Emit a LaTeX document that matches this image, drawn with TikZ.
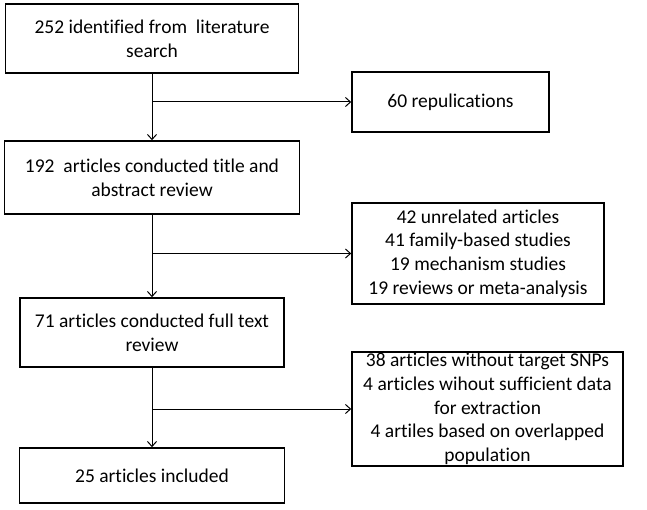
\documentclass[tikz,border=0pt]{standalone}
\usepackage{fontspec}
\setmainfont[Ligatures=NoCommon]{Carlito}
\usetikzlibrary{arrows.meta, positioning, calc}

\begin{document}
\begin{tikzpicture}[
    x=1pt, y=-1pt,
    >={Straight Barb[length=5pt, width=9pt]}, % open arrow heads
    box/.style={draw, line width=1.6pt, align=center, inner sep=0pt,
                font=\fontsize{19.5}{23.7}\selectfont}, % all boxes
    flow/.style={->, line width=1pt} % connectors
]
    \useasboundingbox (0,0) rectangle (647,510);

    % === Main column ===
    \node[box, minimum width=293pt, minimum height=69pt] (found) at (152,38.5)
        {252 identified from\ \ literature\\search};
    \node[box, minimum width=295pt, minimum height=73pt] (screen) at (152,177.5)
        {192\ \ articles conducted title and\\abstract review};
    \node[box, minimum width=264pt, minimum height=69pt] (fulltext) at (152,332.5)
        {71 articles conducted full text\\review};
    \node[box, minimum width=265pt, minimum height=55pt] (included) at (152,475.5)
        {25 articles included};

    % === Excluded ===
    \node[box, minimum width=197pt, minimum height=60pt] (rep) at (450.5,102)
        {60 repulications};
    \node[box, minimum width=252pt, minimum height=101pt] (excl1) at (478,253.5)
        {42 unrelated articles\\41 family-based studies\\19 mechanism studies\\19 reviews or meta-analysis};
    \node[box, minimum width=271pt, minimum height=114pt] (excl2) at (487.5,409)
        {38 articles without target SNPs\\4 articles wihout sufficient data\\for extraction\\4 artiles based on overlapped\\population};

    % === Branch points ===
    \coordinate (b1) at (found.south |- rep.west);
    \coordinate (b2) at (screen.south |- excl1.west);
    \coordinate (b3) at (fulltext.south |- excl2.west);

    % === Arrows ===
    \draw[flow] (found) -- (screen);
    \draw[flow] (screen) -- (fulltext);
    \draw[flow] (fulltext) -- (included);
    \draw[flow] (b1) -- (rep);
    \draw[flow] (b2) -- (excl1);
    \draw[flow] (b3) -- (excl2);

\end{tikzpicture}
\end{document}
